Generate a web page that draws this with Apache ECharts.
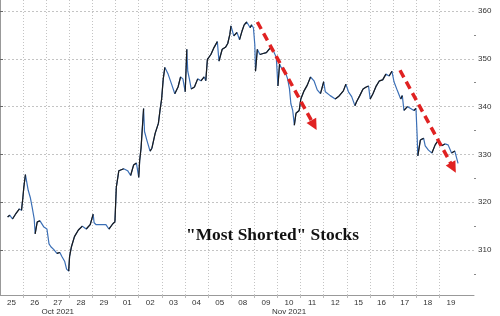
<!DOCTYPE html>
<html><head><meta charset="utf-8">
<script src="https://cdn.jsdelivr.net/npm/echarts@6/dist/echarts.min.js"></script>
<style>html,body{margin:0;padding:0;background:#fff}#c{width:500px;height:316px}</style>
</head><body><div id="c"></div>
<script>
// Day labels (each trading day occupies one unit on the x axis)
const dayLabels = ['25','26','27','28','29','01','02','03','04','05','08','09','10','11','12','15','16','17','18','19'];
const monthLabels = { '27': 'Oct 2021', '10': 'Nov 2021' };
// Intraday observations: time in trading-day units, level of the basket
const times = [0.33,0.42,0.54,0.67,0.84,0.93,0.99,1.03,1.10,1.14,1.22,1.31,1.39,1.48,1.52,1.61,1.73,1.90,2.03,2.12,2.20,2.33,2.46,2.59,2.67,2.80,2.88,2.97,3.01,3.09,3.22,3.39,3.56,3.73,3.90,4.03,4.07,4.16,4.37,4.58,4.71,4.88,4.97,5.03,5.14,5.35,5.52,5.65,5.78,5.90,6.00,6.04,6.10,6.21,6.25,6.35,6.49,6.57,6.71,6.85,6.92,6.99,7.06,7.13,7.27,7.42,7.56,7.70,7.81,7.91,8.01,8.08,8.12,8.19,8.27,8.41,8.55,8.69,8.83,8.90,8.97,9.12,9.26,9.40,9.47,9.61,9.75,9.85,9.94,9.99,10.11,10.25,10.36,10.46,10.56,10.67,10.82,10.88,10.96,11.02,11.05,11.13,11.24,11.38,11.52,11.67,11.81,11.95,12.02,12.09,12.16,12.30,12.44,12.52,12.58,12.66,12.73,12.80,12.94,13.01,13.15,13.29,13.43,13.58,13.72,13.86,14.00,14.07,14.28,14.50,14.64,14.85,14.96,15.07,15.21,15.35,15.42,15.56,15.70,15.84,15.94,16.01,16.13,16.27,16.41,16.55,16.69,16.83,16.95,17.04,17.19,17.33,17.40,17.47,17.62,17.76,17.90,17.99,18.04,18.07,18.18,18.32,18.39,18.53,18.68,18.82,18.96,19.10,19.24,19.38,19.53,19.67,19.81];
const values = [316.9,317.3,316.5,317.5,318.6,318.3,321.0,323.1,325.8,324.7,322.5,321.0,319.0,316.5,313.4,315.9,316.1,314.8,314.4,311.3,310.7,310.1,309.3,309.5,308.7,307.6,306.0,305.6,308.7,310.7,312.8,314.2,315.0,314.4,315.3,317.5,315.7,315.3,315.3,315.3,314.4,315.5,315.9,323.1,326.6,327.0,326.6,325.6,327.8,328.2,325.2,328.7,331.3,339.6,334.8,333.0,330.7,331.3,334.4,336.5,339.2,341.6,345.8,348.2,346.8,344.7,342.7,344.1,346.2,345.8,343.1,352.0,347.4,345.8,343.7,344.1,345.8,345.4,346.2,345.4,349.9,350.9,352.4,353.6,349.5,352.0,352.4,353.2,355.1,356.9,354.8,355.5,354.0,355.7,357.1,357.7,356.5,357.1,356.5,353.0,347.4,352.0,350.9,351.1,351.3,352.2,351.8,350.3,344.3,348.9,348.2,347.8,345.8,343.7,340.6,339.2,336.1,338.6,339.2,341.6,343.3,344.5,346.2,345.4,343.5,342.7,345.2,343.1,342.3,341.6,342.1,343.3,344.7,343.1,342.1,340.2,341.0,342.3,343.7,344.1,344.3,341.6,342.7,344.3,345.4,345.6,346.8,346.4,347.4,345.2,343.3,341.6,342.3,339.2,340.0,339.6,339.2,339.6,334.0,329.7,333.0,333.4,331.8,330.9,330.3,332.0,333.0,331.8,332.2,332.0,330.3,330.7,328.14];
const yTicks = [310, 320, 330, 340, 350, 360];
const yMinorTicks = [305, 315, 325, 335, 345, 355];
const lastValue = 328.14;
// Hand-drawn red arrows: [start, end] in (day, level)
const arrows = [
  [[11.13, 357.7], [13.58, 336.1]],
  [[17.30, 347.6], [19.60, 327.2]]
];

const dayBounds = [];
for (let i = 1; i < dayLabels.length; i++) dayBounds.push(i);
const dayCenters = dayLabels.map((d, i) => i + 0.5);

const full = times.map((t, i) => [t, values[i]]);
const rising = [];
for (let i = 0; i < values.length - 1; i++) {
  if (values[i + 1] > values[i]) {
    rising.push([times[i], values[i]], [times[i + 1], values[i + 1]], [times[i + 1], '-']);
  }
}

const chart = echarts.init(document.getElementById('c'), null, { renderer: 'canvas' });
chart.setOption({
  animation: false,
  backgroundColor: '#ffffff',
  grid: { left: -7.8, right: 26, top: 0, bottom: 17, containLabel: false },
  xAxis: {
    type: 'value', min: 0, max: 20.5,
    axisLine: { show: true, lineStyle: { color: '#999', width: 1 } },
    axisTick: { show: true, customValues: dayBounds, length: 3, lineStyle: { color: '#bbb' } },
    splitLine: { show: true, lineStyle: { color: '#c4c4c4', type: [1, 2], width: 1 } },
    axisLabel: {
      customValues: dayCenters, margin: 3,
      fontFamily: 'Liberation Sans', fontSize: 8, color: '#333', lineHeight: 9,
      formatter: v => {
        const d = dayLabels[Math.floor(v)];
        return monthLabels[d] ? d + '\n' + monthLabels[d] : d;
      }
    }
  },
  yAxis: [{
    type: 'value', position: 'right', min: 300.6, max: 362.3,
    axisLine: { show: true, lineStyle: { color: '#999', width: 1 } },
    axisTick: { show: true, customValues: yTicks, length: 3, lineStyle: { color: '#666' } },
    splitLine: { show: true, lineStyle: { color: '#c4c4c4', type: [2, 2], width: 1 } },
    axisLabel: { customValues: yTicks, margin: 4, fontFamily: 'Liberation Sans', fontSize: 8, color: '#333' }
  }, {
    type: 'value', position: 'right', min: 300.6, max: 362.3,
    axisLine: { show: false },
    axisTick: { show: true, customValues: yMinorTicks, length: 2, lineStyle: { color: '#888' } },
    splitLine: { show: false },
    axisLabel: { show: false }
  }],
  series: [{
    type: 'line', data: full, showSymbol: false, symbol: 'none',
    lineStyle: { color: '#3b6fb6', width: 1.2 }, z: 3,
    markLine: {
      silent: true, animation: false,
      data: [{
        yAxis: lastValue, symbol: 'none',
        lineStyle: { opacity: 0 },
        label: {
          show: true, position: 'end', distance: 3, formatter: String(lastValue),
          backgroundColor: '#111', color: '#fff', fontFamily: 'Liberation Sans', fontSize: 7,
          padding: [1, 1, 0, 1], borderRadius: 1
        }
      }]
    }
  }, {
    type: 'line', data: rising, showSymbol: false, symbol: 'none', connectNulls: false,
    lineStyle: { color: '#1b1b1b', width: 1.2 }, z: 4
  }, {
    type: 'line', data: [], z: 6,
    markLine: {
      silent: true, animation: false,
      symbol: ['none', 'triangle'], symbolSize: [11, 11],
      lineStyle: { color: '#e02222', width: 3.5, type: [8, 5] },
      label: { show: false },
      data: arrows.map(a => [{ coord: a[0] }, { coord: a[1] }])
    }
  }],
  graphic: [{
    type: 'text', left: 186, top: 227, z: 10,
    style: { text: '"Most Shorted" Stocks', font: 'bold 17.4px "Liberation Serif"', fill: '#111' }
  }]
});
</script>
</body></html>
